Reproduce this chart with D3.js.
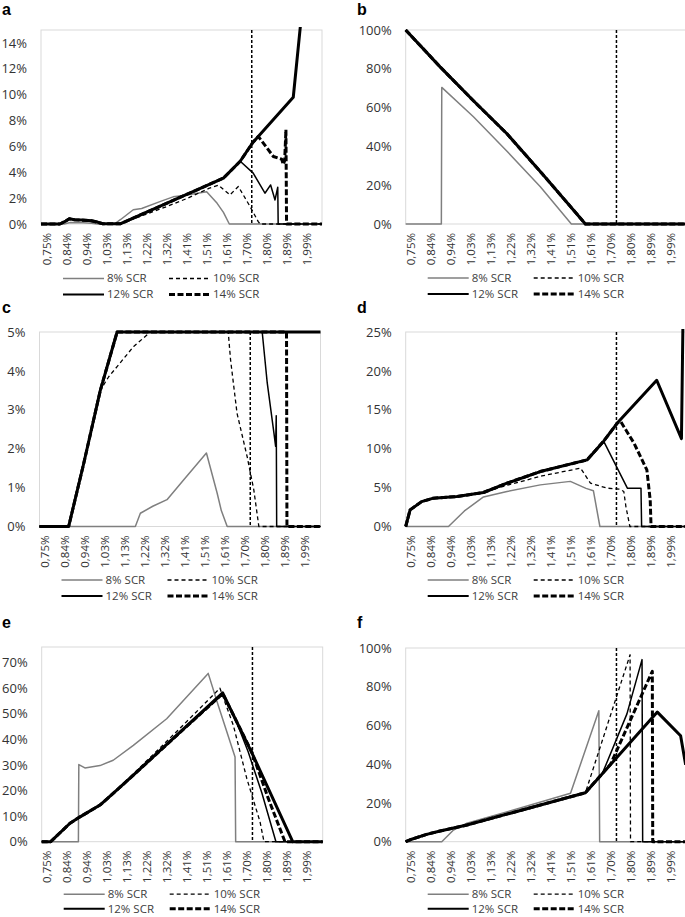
<!DOCTYPE html>
<html><head><meta charset="utf-8">
<script src="https://cdn.jsdelivr.net/npm/d3@7"></script>
<style>body{margin:0;background:#fff}svg{display:block}</style>
</head><body>
<svg id="chart" width="685" height="917"></svg>
<script>
// ---------- shared data ----------
const xLabels = ["0,75%","0,84%","0,94%","1,03%","1,13%","1,22%","1,32%","1,41%","1,51%","1,61%","1,70%","1,80%","1,89%","1,99%"];
const xStart = 0.75, xEnd = 2.09;
const xStep = (1.99 - 0.75) / 13;
const legendNames = ["8% SCR", "10% SCR", "12% SCR", "14% SCR"];
const markerX = 1.755;

// ---------- panel a ----------
const aTicks = [0, 2, 4, 6, 8, 10, 12, 14];
const aBase = [[0.75,0],[0.84,0],[0.865,0.2],[0.885,0.4],[0.91,0.33],[0.95,0.3],[0.99,0.25],[1.02,0.15],[1.045,0.02],[1.13,0.02],[1.62,3.55],[1.70,4.85],[1.76,6.3],[1.953,9.8],[1.99,15.8]];
const a8 = [[0.75,0],[0.86,0],[0.89,0.12],[0.95,0.1],[0.99,0.05],[1.02,0],[1.10,0],[1.13,0.35],[1.19,1.1],[1.23,1.2],[1.32,1.75],[1.38,2.1],[1.43,2.2],[1.54,2.5],[1.59,1.6],[1.62,0.9],[1.648,0],[2.09,0]];
const a10 = [[0.75,0],[0.84,0],[0.865,0.2],[0.885,0.4],[0.91,0.33],[0.99,0.25],[1.045,0.02],[1.13,0.02],[1.25,0.75],[1.35,1.35],[1.45,2.0],[1.55,2.75],[1.596,3.0],[1.651,2.25],[1.691,2.9],[1.747,1.35],[1.786,0.18],[1.795,0],[2.09,0]];
const a12 = [[0.75,0],[0.84,0],[0.865,0.2],[0.885,0.4],[0.91,0.33],[0.99,0.25],[1.045,0.02],[1.13,0.02],[1.62,3.55],[1.70,4.85],[1.762,3.93],[1.818,2.38],[1.845,3.02],[1.866,1.86],[1.879,2.84],[1.881,0],[2.09,0]];
const a14 = [[0.75,0],[0.84,0],[0.865,0.2],[0.885,0.4],[0.91,0.33],[0.99,0.25],[1.045,0.02],[1.13,0.02],[1.62,3.55],[1.70,4.85],[1.76,6.3],[1.786,6.77],[1.858,5.22],[1.898,5.01],[1.905,4.6],[1.912,4.9],[1.918,7.29],[1.921,0],[2.09,0]];

// ---------- panel b ----------
const bTicks = [0, 20, 40, 60, 80, 100];
const bBase = [[0.75,100],[0.914,81],[1.073,63.5],[1.233,46.5],[1.40,26],[1.52,11],[1.607,0],[2.09,0]];
const b8 = [[0.75,0],[0.92,0],[0.922,70.4],[1.073,55.3],[1.233,37.5],[1.392,19.2],[1.54,0],[2.09,0]];
const b10 = [[0.75,100],[0.914,81],[1.073,63.5],[1.233,46.5],[1.40,26],[1.52,11],[1.607,0],[2.09,0]];
const b12 = [[0.75,100],[0.914,81],[1.073,63.5],[1.233,46.5],[1.40,26],[1.52,11],[1.607,0],[2.09,0]];
const b14 = [[0.75,100],[0.914,81],[1.073,63.5],[1.233,46.5],[1.40,26],[1.52,11],[1.607,0],[2.09,0]];

// ---------- panel c ----------
const cTicks = [0, 1, 2, 3, 4, 5];
const cBase = [[0.75,0],[0.889,0],[0.96,1.6],[1.04,3.5],[1.12,5],[2.09,5]];
const c8 = [[0.75,0],[1.207,0],[1.231,0.34],[1.29,0.52],[1.358,0.69],[1.438,1.2],[1.546,1.89],[1.597,0.86],[1.617,0.41],[1.645,0],[2.09,0]];
const c10 = [[0.75,0],[0.889,0],[0.96,1.6],[1.04,3.5],[1.08,3.85],[1.12,4.11],[1.199,4.63],[1.279,5],[1.65,5],[1.661,4.29],[1.692,2.91],[1.74,1.8],[1.772,0.94],[1.796,0],[2.09,0]];
const c12 = [[0.75,0],[0.889,0],[0.96,1.6],[1.04,3.5],[1.12,5],[1.812,5],[1.836,3.69],[1.868,2.4],[1.876,2.06],[1.879,2.85],[1.881,0],[2.09,0]];
const c14 = [[0.75,0],[0.889,0],[0.96,1.6],[1.04,3.5],[1.12,5],[1.928,5],[1.93,0],[2.09,0]];

// ---------- panel d ----------
const dTicks = [0, 5, 10, 15, 20, 25];
const dBase = [[0.75,0],[0.771,2.14],[0.826,3.2],[0.882,3.64],[0.994,3.85],[1.121,4.37],[1.233,5.57],[1.392,7.06],[1.615,8.56],[1.695,11.0],[1.759,13.3],[1.947,18.8],[2.065,11.3],[2.072,26]];
const d8 = [[0.75,0],[0.954,0],[1.03,2.0],[1.121,3.8],[1.233,4.5],[1.392,5.35],[1.535,5.8],[1.61,4.9],[1.645,4.6],[1.676,0],[2.09,0]];
const d10 = [[0.75,0],[0.771,2.14],[0.826,3.2],[0.882,3.64],[0.994,3.85],[1.121,4.37],[1.233,5.3],[1.40,6.5],[1.584,7.5],[1.631,5.57],[1.711,4.93],[1.77,4.8],[1.79,4.5],[1.80,2.57],[1.819,0],[2.09,0]];
const d12 = [[0.75,0],[0.771,2.14],[0.826,3.2],[0.882,3.64],[0.994,3.85],[1.121,4.37],[1.233,5.57],[1.392,7.06],[1.615,8.56],[1.695,10.9],[1.807,4.93],[1.872,4.93],[1.875,0],[2.09,0]];
const d14 = [[0.75,0],[0.771,2.14],[0.826,3.2],[0.882,3.64],[0.994,3.85],[1.121,4.37],[1.233,5.57],[1.392,7.06],[1.615,8.56],[1.695,11.0],[1.759,13.3],[1.775,13.5],[1.839,10.7],[1.90,7.28],[1.916,3.4],[1.92,0],[2.09,0]];

// ---------- panel e ----------
const eTicks = [0, 10, 20, 30, 40, 50, 60, 70];
const eBase = [[0.75,0],[0.793,0],[0.885,7.2],[0.933,9.7],[1.028,14.3],[1.108,20.1],[1.187,26],[1.613,58.1],[1.759,33.5],[1.947,0],[2.09,0]];
const e8 = [[0.75,0],[0.925,0],[0.927,30.1],[0.956,28.8],[1.028,29.7],[1.091,31.8],[1.187,37.6],[1.346,48],[1.544,65.7],[1.592,53.2],[1.672,33.1],[1.675,0],[2.09,0]];
const e10 = [[0.75,0],[0.793,0],[0.885,7.2],[0.933,9.7],[1.028,14.3],[1.108,20.1],[1.20,27.5],[1.40,43.5],[1.60,59.9],[1.664,45.4],[1.728,24.7],[1.791,7.8],[1.81,0],[2.09,0]];
const e12 = [[0.75,0],[0.793,0],[0.885,7.2],[0.933,9.7],[1.028,14.3],[1.108,20.1],[1.187,26],[1.613,57.6],[1.68,46.5],[1.735,35],[1.80,19],[1.867,0],[2.09,0]];
const e14 = [[0.75,0],[0.793,0],[0.885,7.2],[0.933,9.7],[1.028,14.3],[1.108,20.1],[1.187,26],[1.613,57.8],[1.752,35],[1.83,17],[1.91,0],[2.09,0]];

// ---------- panel f ----------
const fTicks = [0, 20, 40, 60, 80, 100];
const fBase = [[0.75,0],[0.771,1],[0.85,3.8],[0.914,5.5],[1.042,8.6],[1.607,25.3],[1.95,66.9],[2.061,54.7],[2.085,39.7]];
const f8 = [[0.75,0],[0.922,0],[0.978,6.0],[1.042,9.6],[1.30,17.5],[1.536,25],[1.671,67.6],[1.675,0],[2.09,0]];
const f10 = [[0.75,0],[0.771,1],[0.85,3.8],[0.914,5.5],[1.042,8.6],[1.607,25.3],[1.82,96.5],[1.822,0],[2.09,0]];
const f12 = [[0.75,0],[0.771,1],[0.85,3.8],[0.914,5.5],[1.042,8.6],[1.607,25.3],[1.687,35],[1.805,66],[1.877,94],[1.88,0],[2.09,0]];
const f14 = [[0.75,0],[0.771,1],[0.85,3.8],[0.914,5.5],[1.042,8.6],[1.607,25.3],[1.727,40],[1.926,88],[1.928,0],[2.09,0]];

// ---------- layout ----------
const FONT = "'Open Sans', 'DejaVu Sans', sans-serif";
const W = 281;
const panels = [
  {name:"a", lx:2,   ly:15,  left:41,    top:30,  bottom:224,   yMax:15,  ticks:aTicks, s:[a8,a10,a12,a14], base:aBase, lg:[54.5,70.5]},
  {name:"b", lx:357, ly:15,  left:405.7, top:30,  bottom:224,   yMax:100, ticks:bTicks, s:[b8,b10,b12,b14], base:bBase, lg:[54,70]},
  {name:"c", lx:2,   ly:313, left:39.5,  top:332, bottom:526.5, yMax:5,   ticks:cTicks, s:[c8,c10,c12,c14], base:cBase, lg:[53.5,69.5]},
  {name:"d", lx:357, ly:313, left:405.7, top:332, bottom:526.5, yMax:25,  ticks:dTicks, s:[d8,d10,d12,d14], base:dBase, lg:[53.5,69.5]},
  {name:"e", lx:2,   ly:628, left:41.7,  top:647, bottom:841.7, yMax:76,  ticks:eTicks, s:[e8,e10,e12,e14], base:eBase, lg:[52.5,67]},
  {name:"f", lx:357, ly:628, left:405.7, top:648, bottom:841.7, yMax:100, ticks:fTicks, s:[f8,f10,f12,f14], base:fBase, lg:[52.5,67]}
];
const styles = [
  {stroke:"#7f7f7f", width:1.5, dash:null,    lw:1.5},
  {stroke:"#000",    width:1.3, dash:"4,3",   lw:1.3},
  {stroke:"#000",    width:1.5, dash:null,    lw:2},
  {stroke:"#000",    width:3,   dash:"6,2.5", lw:3}
];

const svg = d3.select("#chart");
panels.forEach((p, pi) => {
  const g = svg.append("g");
  const x = d3.scaleLinear().domain([xStart, xEnd]).range([p.left, p.left + W]);
  const y = d3.scaleLinear().domain([0, p.yMax]).range([p.bottom, p.top]);

  g.append("text").attr("x", p.lx).attr("y", p.ly).text(p.name)
    .attr("font-family", "'Liberation Sans', Arial, sans-serif").attr("font-weight", "bold")
    .attr("font-size", 16).attr("fill", "#000");

  g.append("rect").attr("x", p.left).attr("y", p.top).attr("width", W)
    .attr("height", p.bottom - p.top).attr("fill", "none").attr("stroke", "#d9d9d9").attr("stroke-width", 1);

  const ya = d3.axisLeft(y).tickValues(p.ticks).tickFormat(d => d + "%").tickSize(0).tickPadding(14);
  const yg = g.append("g").attr("transform", `translate(${p.left},0)`).call(ya);
  yg.select(".domain").remove();
  yg.selectAll("text").attr("font-family", FONT).attr("font-size", 13).attr("fill", "#333");

  const tickVals = xLabels.map((_, i) => xStart + i * xStep);
  const xa = d3.axisBottom(x).tickValues(tickVals).tickFormat((d, i) => xLabels[i]).tickSize(0);
  const xg = g.append("g").attr("transform", `translate(0,${p.bottom})`).call(xa);
  xg.select(".domain").remove();
  xg.selectAll("text").attr("x", 0).attr("y", 0).attr("dy", "0.35em")
    .attr("transform", "translate(5,9) rotate(-90)").attr("text-anchor", "end")
    .attr("font-family", FONT).attr("font-size", 11.5).attr("fill", "#333");

  const clipId = "clip" + pi;
  g.append("clipPath").attr("id", clipId).append("rect")
    .attr("x", p.left - 3).attr("y", p.top - 3).attr("width", W + 6).attr("height", p.bottom - p.top + 6);
  const lg = g.append("g").attr("clip-path", `url(#${clipId})`);
  const line = d3.line().x(d => x(d[0])).y(d => y(d[1]));

  // vertical reference marker
  lg.append("line").attr("x1", x(markerX)).attr("x2", x(markerX)).attr("y1", p.top).attr("y2", p.bottom)
    .attr("stroke", "#000").attr("stroke-width", 1.5).attr("stroke-dasharray", "3,2");

  p.s.forEach((data, si) => {
    const st = styles[si];
    const path = lg.append("path").datum(data).attr("d", line).attr("fill", "none")
      .attr("stroke", st.stroke).attr("stroke-width", st.width).attr("stroke-linejoin", "round");
    if (st.dash) path.attr("stroke-dasharray", st.dash);
  });
  lg.append("path").datum(p.base).attr("d", line).attr("fill", "none")
    .attr("stroke", "#000").attr("stroke-width", 3).attr("stroke-linejoin", "round");

  // legend
  legendNames.forEach((n, i) => {
    const col = i % 2, row = Math.floor(i / 2);
    const lx0 = p.left + 22 + col * 106;
    const ly = p.bottom + p.lg[row];
    const st = styles[i];
    const l = g.append("line").attr("x1", lx0).attr("x2", lx0 + 41).attr("y1", ly).attr("y2", ly)
      .attr("stroke", st.stroke).attr("stroke-width", st.lw);
    if (st.dash) l.attr("stroke-dasharray", st.dash);
    g.append("text").attr("x", lx0 + 44).attr("y", ly).attr("dy", "0.34em").text(n)
      .attr("font-family", FONT).attr("font-size", 11.5).attr("fill", "#404040");
  });
});
</script>
</body></html>
